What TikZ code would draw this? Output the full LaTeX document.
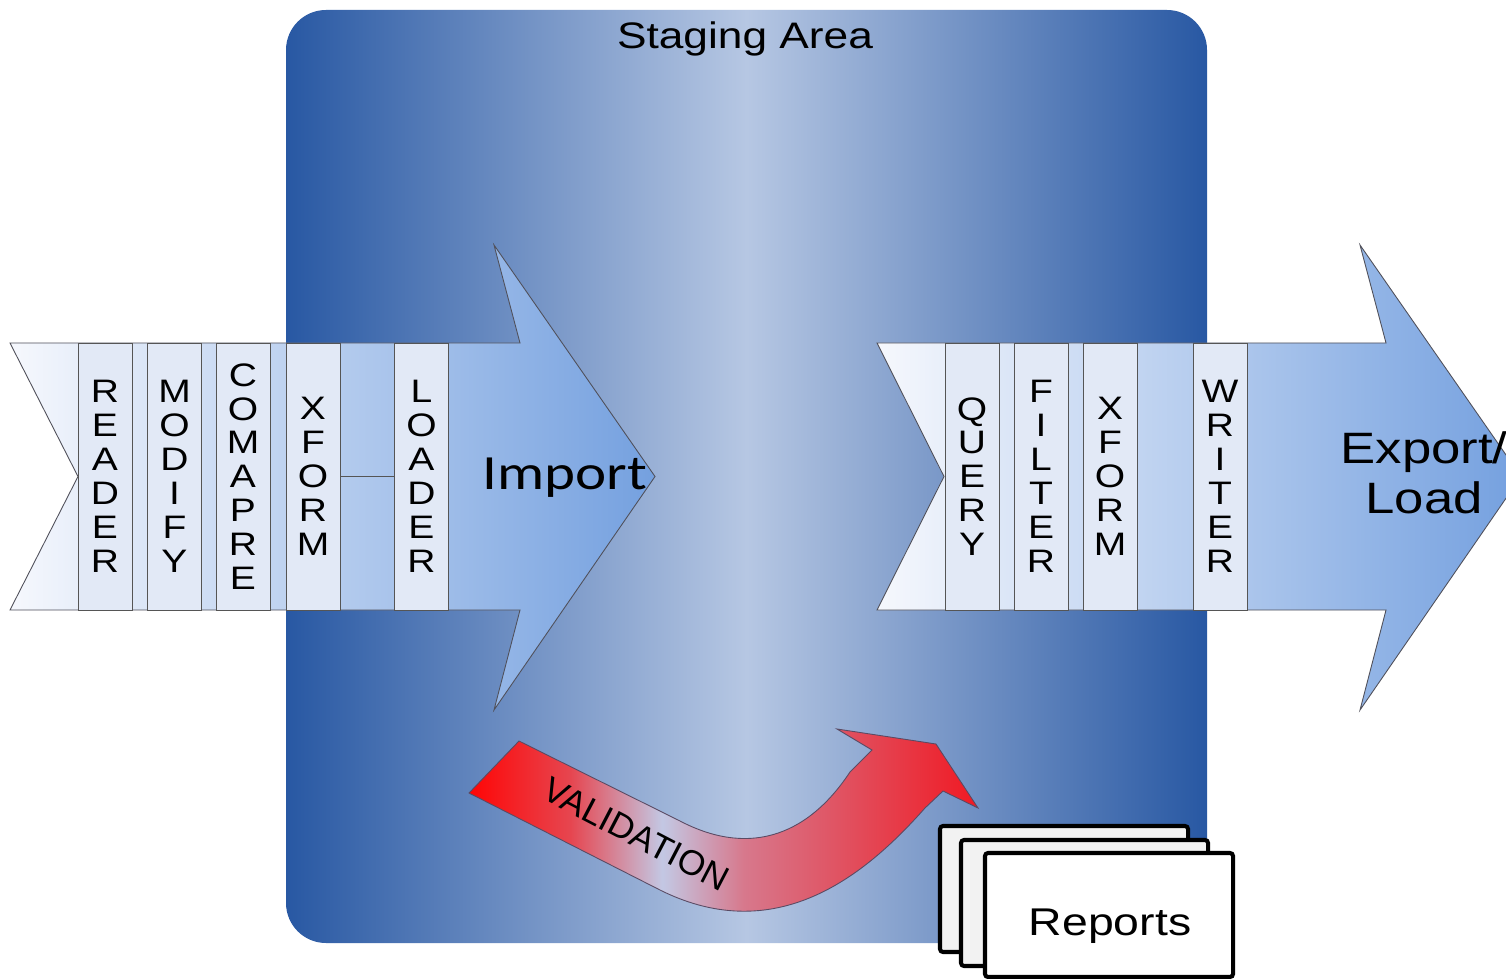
\documentclass[tikz,border=0pt]{standalone}
\usepackage{fontspec}
\setmainfont[FakeStretch=1.2]{Liberation Sans}
\newfontfamily\importfont[FakeStretch=1.2]{Carlito}
\newfontfamily\plainsans{Liberation Sans}

\definecolor{stagedark}{RGB}{40,88,163}
\definecolor{stagelight}{RGB}{182,199,227}
\definecolor{arrowwhite}{RGB}{246,248,253}
\definecolor{arrowblue}{RGB}{116,160,223}
\definecolor{arrowline}{RGB}{80,80,90}
\definecolor{stripfill}{RGB}{226,233,246}
\definecolor{stripline}{RGB}{85,85,85}
\definecolor{valred}{RGB}{255,5,5}
\definecolor{valmid}{RGB}{230,70,80}
\definecolor{vallight}{RGB}{195,200,228}
\definecolor{valpink}{RGB}{215,120,140}
\definecolor{valrose}{RGB}{225,80,95}
\definecolor{valred2}{RGB}{240,25,35}
\definecolor{valline}{RGB}{90,75,100}
\definecolor{reportgray}{RGB}{242,242,242}

\pgfdeclarehorizontalshading{valshade}{100bp}{color(0bp)=(valred); color(25bp)=(valred);
  color(35bp)=(valmid); color(44bp)=(vallight); color(52bp)=(valpink);
  color(62bp)=(valrose); color(75bp)=(valred2); color(100bp)=(valred2)}

\tikzset{
  stripbox/.style={draw=stripline, fill=stripfill, line width=0.5pt,
    minimum width=1.08cm, minimum height=5.34cm, inner sep=0pt,
    align=center, font=\fontsize{18.5}{19.3}\selectfont},
  arrowbody/.style={draw=arrowline, line width=0.5pt,
    left color=arrowwhite, right color=arrowblue},
  reportbox/.style={draw=black, line width=2.3pt, rounded corners=1.7pt},
}

\begin{document}
\begin{tikzpicture}[x=0.02cm, y=-0.02cm]
    % Frame
    \useasboundingbox (0,0) rectangle (1506,979);
    \clip (0,0) rectangle (1506,979);
    \fill[white] (0,0) rectangle (1506,979);

    % Staging area
    \shade[left color=stagedark, right color=stagedark, middle color=stagelight,
        rounded corners=0.8cm] (286,10) rectangle (1207,943);
    \node[anchor=base, inner sep=0pt, font=\fontsize{21}{25}\selectfont]
        (stagelbl) at (745,49) {Staging Area};

    % Import arrow
    \shadedraw[arrowbody] (10,343) -- (520,343) -- (494,245) -- (655,476.5)
        -- (494,710) -- (520,610) -- (10,610) -- (78,476.5) -- cycle;

    \foreach \x/\name/\word in {105/reader/{R\\E\\A\\D\\E\\R},
        174.5/modify/{M\\O\\D\\I\\F\\Y}, 243/comapre/{C\\O\\M\\A\\P\\R\\E},
        313/xformin/{X\\F\\O\\R\\M}, 421.5/loader/{L\\O\\A\\D\\E\\R}} {
        \node[stripbox] (\name) at (\x,476.5) {\word};
    }
    \draw[stripline, line width=0.5pt] (xformin.east) -- (loader.west);

    \node[anchor=base, inner sep=0pt, font=\importfont\fontsize{28}{32}\selectfont]
        (importlbl) at (565,489) {Import};

    % Export arrow
    \shadedraw[arrowbody] (877,343) -- (1386,343) -- (1360,245) -- (1521,476.5)
        -- (1360,710) -- (1386,610) -- (877,610) -- (944,476.5) -- cycle;

    \foreach \x/\name/\word in {972/query/{Q\\U\\E\\R\\Y},
        1041/filter/{F\\I\\L\\T\\E\\R}, 1110/xformout/{X\\F\\O\\R\\M},
        1220/writer/{W\\R\\I\\T\\E\\R}} {
        \node[stripbox] (\name) at (\x,476.5) {\word};
    }

    \node[align=center, inner sep=0pt, font=\fontsize{25}{28.35}\selectfont]
        (exportlbl) at (1424,473) {Export/\\Load};

    % Validation arrow
    \shadedraw[shading=valshade, draw=valline, line width=0.5pt]
        (519,741) -- (680,821) .. controls (745,855) and (805,840) .. (850,772)
        -- (872,750) -- (837,729) -- (936,744) -- (978,808) -- (943,791)
        -- (925,808) .. controls (870,870) and (780,950) .. (660,890)
        -- (469,793) -- cycle;
    \node[rotate=-27.5, inner sep=0pt, font=\plainsans\fontsize{20}{24}\selectfont]
        (validlbl) at (636,834) {VALIDATION};

    % Reports stack
    \draw[reportbox, fill=reportgray] (940,826) rectangle (1188,952);
    \draw[reportbox, fill=reportgray] (961,840) rectangle (1208,966);
    \draw[reportbox, fill=white] (985,853) rectangle (1233,977);
    \node[anchor=base, inner sep=0pt, font=\fontsize{22}{26}\selectfont]
        (reports) at (1110,935) {Reports};

\end{tikzpicture}
\end{document}
